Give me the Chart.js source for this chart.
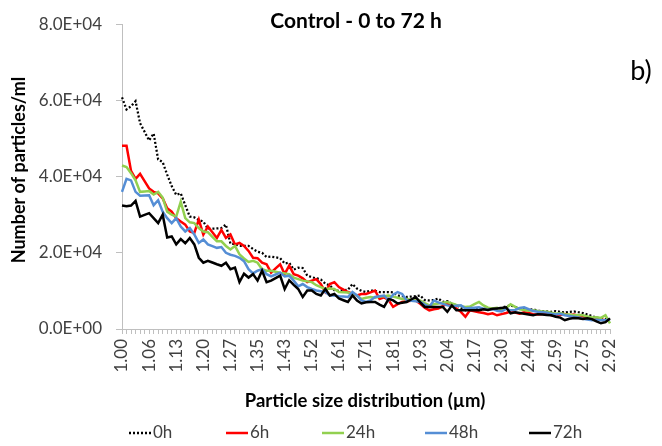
<!DOCTYPE html>
<html lang="en">
<head>
  <meta charset="UTF-8">
  <title>Control - 0 to 72 h</title>
  <style>
    html, body { margin: 0; padding: 0; background: #fff; }
    .chart-box { width: 662px; height: 446px; position: relative; }
  </style>
  <script src="https://cdn.jsdelivr.net/npm/chart.js"></script>
</head>
<body>
  <div class="chart-box">
    <canvas id="sizeChart"></canvas>
  </div>

  <script>
    // Particle size bins (µm), every 6th one is labelled on the axis
    const sizeBins = [
      '1.00','1.01','1.02','1.03','1.04','1.05','1.06','1.07','1.08','1.09',
      '1.10','1.12','1.13','1.14','1.15','1.16','1.17','1.18','1.20','1.21',
      '1.22','1.23','1.24','1.26','1.27','1.28','1.29','1.31','1.32','1.33',
      '1.35','1.36','1.37','1.39','1.40','1.42','1.43','1.44','1.46','1.47',
      '1.49','1.50','1.52','1.53','1.55','1.56','1.58','1.59','1.61','1.63',
      '1.64','1.66','1.68','1.69','1.71','1.73','1.74','1.76','1.78','1.80',
      '1.81','1.83','1.85','1.87','1.89','1.91','1.93','1.94','1.96','1.98',
      '2.00','2.02','2.04','2.06','2.08','2.11','2.13','2.15','2.17','2.19',
      '2.21','2.23','2.26','2.28','2.30','2.32','2.35','2.37','2.40','2.42',
      '2.44','2.47','2.49','2.52','2.54','2.57','2.59','2.62','2.64','2.67',
      '2.70','2.72','2.75','2.78','2.81','2.84','2.86','2.89','2.92'
    ];

    // Number of particles/ml for each sampling time
    const count0h = [
      60800,57600,58500,59800,54000,51750,49500,51300,44500,43800,
      40500,37500,35200,35600,32500,29500,29300,28600,28200,26300,
      26350,26400,26500,27400,22400,22300,21800,21800,21800,21000,
      20300,20000,18900,19000,18800,18600,17200,17400,15600,16100,
      16000,14000,13600,13300,13000,11900,11400,10200,10000,10150,
      10300,11800,10600,10000,9700,10100,10000,9700,9700,9700,
      9600,8800,8600,8400,8500,8600,8800,7600,7500,7600,
      8000,7100,7300,6700,6200,5600,4900,5200,5300,5400,
      5300,5400,5200,5400,5600,5900,6200,5800,5400,5500,
      5000,5200,4800,4700,4600,4500,4700,4500,4300,4500,
      4600,4400,4200,3800,3400,3000,2800,2600,2400
    ];
    const count6h = [
      48100,48100,41500,39400,40700,38800,36900,36000,35600,34300,
      31700,30800,29100,28200,27400,25600,25200,28700,24800,26900,
      25400,23900,26000,23900,24800,22200,22600,21800,20500,18700,
      18600,17400,17000,14800,15900,17000,14400,16600,14400,14000,
      13300,12300,12700,13100,11800,9700,11800,12300,11000,10350,
      9700,9300,8800,9200,9200,9600,10100,7900,8300,7600,
      5800,6500,7100,7300,7400,7500,6600,5600,4900,5200,
      5400,6000,6700,6200,5400,4500,3200,4900,4650,4400,
      4200,3900,4100,3600,3900,4200,4600,4300,4000,4400,
      4200,3900,3800,3950,4100,3600,3400,3700,3900,3600,
      3800,3500,3300,3000,2700,2800,2500,2300,2300
    ];
    const count24h = [
      42900,42500,40900,39000,36000,36100,36200,35300,36000,34500,
      30800,30000,29500,33400,29100,28000,27800,26500,25600,25400,
      24200,23000,23000,21800,20900,21800,19600,18500,17600,17900,
      17400,15700,15300,15300,15050,14800,14600,14400,13500,13100,
      12700,12500,12300,11500,11000,10500,10600,10500,9700,9650,
      9600,9300,8800,7900,8200,8400,8200,8500,8600,8800,
      8500,8200,7900,7900,7700,7500,7500,6800,6200,6500,
      6700,6900,7100,6700,6300,6000,5800,5900,6500,7100,
      6200,5600,5400,5600,5200,5500,6500,5800,5200,5000,
      4800,4900,4700,4600,4500,4300,4000,4200,3900,3800,
      3600,3700,3600,3300,3000,3100,2900,3600,1500
    ];
    const count48h = [
      36000,39400,39000,36000,35000,35050,35100,32500,33800,30800,
      29100,27800,29100,26900,25600,26500,24800,22600,23500,22200,
      21750,21300,21500,20000,19500,19200,18700,17800,15700,14600,
      15300,15700,14400,13800,14300,14800,13800,14000,12700,11200,
      11800,11000,10500,10100,9900,9700,8800,8800,8600,8500,
      8400,9700,8800,7500,7100,7500,8400,8600,8800,7500,
      9000,9700,9200,7500,7400,7300,7100,6400,5800,7500,
      7000,6600,6200,6000,6100,6200,5400,5500,5600,5700,
      5300,5000,5200,4800,4600,5300,4900,5000,5500,5700,
      5200,4700,4500,4400,4300,4000,3800,4000,3600,3400,
      3200,3000,2700,2500,2300,2400,2300,2300,2500
    ];
    const count72h = [
      32400,32200,32400,33600,29500,29950,30400,29100,27800,30000,
      24000,24300,22200,23600,22500,23900,22200,18700,17400,17900,
      17450,17000,16600,17400,15700,16100,12300,14500,13500,14400,
      12700,15300,12300,12700,13350,14000,10500,12800,11600,10500,
      8400,10100,10100,9200,8800,10500,8800,9200,8000,7550,
      7100,8800,7500,6700,7000,7100,7100,6400,5800,7900,
      7500,6700,6900,7100,7750,8400,7000,5800,5800,5800,
      5800,5800,4500,6200,4900,4900,4900,4900,4900,4900,
      5200,5000,5300,5400,5500,5700,4100,4400,4200,4000,
      3800,3600,3900,3800,3700,3600,3200,3000,2300,2700,
      2900,2800,2600,2800,2600,2000,1500,1800,2800
    ];

    const seriesNames = ['0h', '6h', '24h', '48h', '72h'];
    const seriesColors = ['#000000', '#ff0000', '#92d050', '#558ed5', '#000000'];
    const yTicks = [0, 20000, 40000, 60000, 80000];

    const chartTitle = 'Control - 0 to 72 h';
    const panelTag = 'b)';
    const xTitle = 'Particle size distribution (µm)';
    const yTitle = 'Number of particles/ml';

    const FONT = 'Lato, "Open Sans", sans-serif';

    function sci(v) {
      if (v === 0) return '0.0E+00';
      const e = Math.floor(Math.log10(v));
      const m = v / Math.pow(10, e);
      return m.toFixed(1) + 'E+' + String(e).padStart(2, '0');
    }

    // legend positions (x of line start)
    const legendX = [129, 226, 322, 425, 529];

    const extraText = {
      id: 'extraText',
      afterDraw(chart) {
        const ctx = chart.ctx;
        ctx.save();
        ctx.fillStyle = '#000';
        ctx.textBaseline = 'middle';

        ctx.textAlign = 'center';
        ctx.font = 'bold 21px ' + FONT;
        ctx.fillText(chartTitle, 356, 21);

        ctx.font = '27px ' + FONT;
        ctx.fillText(panelTag, 641, 71);

        ctx.font = 'bold 18.5px ' + FONT;
        ctx.fillText(xTitle, 365, 401);

        ctx.save();
        ctx.translate(19, 170);
        ctx.rotate(-Math.PI / 2);
        ctx.font = 'bold 18px ' + FONT;
        ctx.fillText(yTitle, 0, 0);
        ctx.restore();

        // legend
        ctx.font = '17px ' + FONT;
        ctx.textAlign = 'left';
        ctx.fillStyle = '#404040';
        seriesNames.forEach((name, i) => {
          const x = legendX[i];
          const y = 433;
          ctx.beginPath();
          ctx.lineWidth = 2.5;
          ctx.strokeStyle = seriesColors[i];
          ctx.setLineDash(i === 0 ? [2, 2] : []);
          ctx.moveTo(x, y);
          ctx.lineTo(x + 22, y);
          ctx.stroke();
          ctx.setLineDash([]);
          ctx.fillText(name, x + 24, y);
        });
        ctx.restore();
      }
    };

    const seriesData = [count0h, count6h, count24h, count48h, count72h];
    const datasets = seriesNames.map((name, i) => ({
      label: name,
      data: seriesData[i],
      borderColor: seriesColors[i],
      backgroundColor: seriesColors[i],
      borderWidth: i === 0 ? 2.25 : 2.5,
      borderDash: i === 0 ? [2, 2] : [],
      pointRadius: 0,
      tension: 0,
      order: seriesNames.length - i
    }));

    new Chart(document.getElementById('sizeChart'), {
      type: 'line',
      data: { labels: sizeBins, datasets: datasets },
      plugins: [extraText],
      options: {
        responsive: true,
        maintainAspectRatio: false,
        animation: false,
        layout: { padding: { left: 0, right: 52, top: 20, bottom: 0 } },
        plugins: {
          legend: { display: false },
          tooltip: { enabled: false },
          title: { display: false }
        },
        scales: {
          x: {
            type: 'category',
            offset: false,
            border: { color: '#bfbfbf', width: 1 },
            grid: { display: true, drawOnChartArea: false, drawTicks: true, tickLength: 5, color: '#bfbfbf' },
            ticks: {
              autoSkip: false,
              maxRotation: 90,
              minRotation: 90,
              padding: 5,
              color: '#404040',
              font: { family: FONT, size: 17 },
              callback: function (val, idx) {
                return idx % 6 === 0 ? this.getLabelForValue(val) : '';
              }
            },
            afterFit: (scale) => { scale.height = 117; }
          },
          y: {
            min: 0,
            max: 80000,
            border: { color: '#bfbfbf', width: 1 },
            grid: { display: true, drawOnChartArea: false, drawTicks: true, tickLength: 6, color: '#bfbfbf' },
            afterBuildTicks: (scale) => { scale.ticks = yTicks.map(v => ({ value: v })); },
            ticks: {
              padding: 14,
              color: '#404040',
              font: { family: FONT, size: 17 },
              callback: (v) => sci(v)
            },
            afterFit: (scale) => { scale.width = 122; }
          }
        }
      }
    });
  </script>
</body>
</html>
